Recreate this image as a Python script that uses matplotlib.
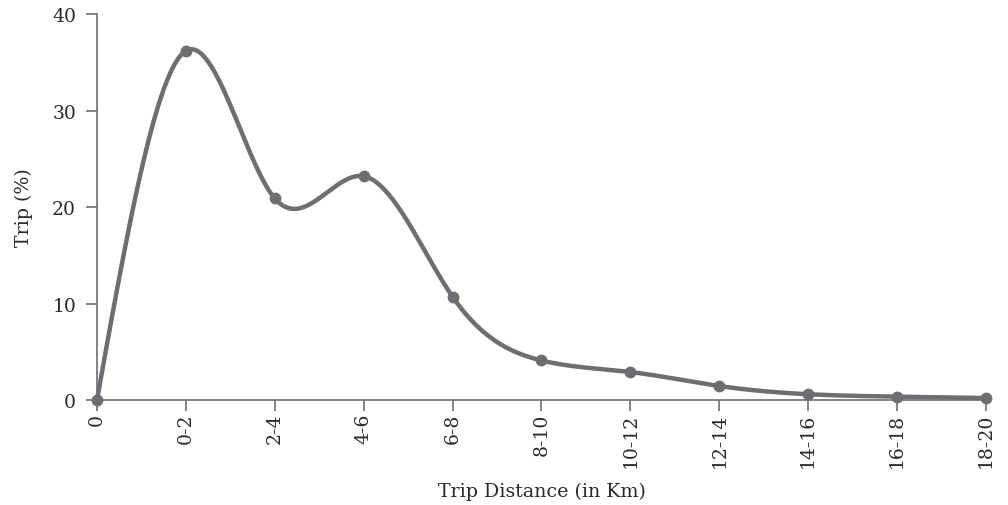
import matplotlib
matplotlib.use("Agg")
import matplotlib.pyplot as plt
import numpy as np

# trip share by distance band
categories = ["0", "0-2", "2-4", "4-6", "6-8", "8-10", "10-12",
              "12-14", "14-16", "16-18", "18-20"]
trip_pct = [0, 36.2, 20.9, 23.2, 10.7, 4.1, 2.9, 1.45, 0.6, 0.35, 0.2]

GREY = "#6d6e71"
plt.rcParams["font.family"] = ["DejaVu Serif"]


# natural cubic spline, used only to draw the smoothed line
def smooth_curve(x, y, n=400):
    x = np.asarray(x, float)
    y = np.asarray(y, float)
    m = len(x)
    h = np.diff(x)
    A = np.zeros((m, m))
    b = np.zeros(m)
    A[0, 0] = A[-1, -1] = 1
    for i in range(1, m - 1):
        A[i, i - 1] = h[i - 1]
        A[i, i] = 2 * (h[i - 1] + h[i])
        A[i, i + 1] = h[i]
        b[i] = 6 * ((y[i + 1] - y[i]) / h[i] - (y[i] - y[i - 1]) / h[i - 1])
    M = np.linalg.solve(A, b)
    xs = np.linspace(x[0], x[-1], n)
    idx = np.clip(np.searchsorted(x, xs) - 1, 0, m - 2)
    x0, x1 = x[idx], x[idx + 1]
    hh = x1 - x0
    t0, t1 = x1 - xs, xs - x0
    ys = (M[idx] * t0 ** 3 + M[idx + 1] * t1 ** 3) / (6 * hh) \
        + (y[idx] / hh - M[idx] * hh / 6) * t0 \
        + (y[idx + 1] / hh - M[idx + 1] * hh / 6) * t1
    return xs, ys


pos = np.arange(len(categories))
xs, ys = smooth_curve(pos, trip_pct)

fig = plt.figure(figsize=(10.08, 5.06), dpi=100)
ax = fig.add_axes([0.0962, 0.2075, 0.882, 0.7625])

ax.plot(xs, ys, color=GREY, lw=3.2, solid_capstyle="round", clip_on=False)
ax.plot(pos, trip_pct, "o", color=GREY, ms=7.5, clip_on=False)

ax.set_xlim(0, len(categories) - 1)
ax.set_ylim(0, 40)
ax.set_yticks([0, 10, 20, 30, 40])
ax.set_xticks(pos)
ax.set_xticklabels(categories, rotation=90)

for side in ["top", "right"]:
    ax.spines[side].set_visible(False)
for side in ["left", "bottom"]:
    ax.spines[side].set_color(GREY)
    ax.spines[side].set_linewidth(1.2)
ax.tick_params(colors="#2a2a2a", labelsize=13.5, length=8, width=1.2, color=GREY)
ax.tick_params(axis="x", pad=1)
ax.tick_params(axis="y", pad=7)

ax.set_ylabel("Trip (%)", fontsize=13.7, labelpad=14, color="#2a2a2a")
ax.set_xlabel("Trip Distance (in Km)", fontsize=13.7, labelpad=11, color="#2a2a2a")

fig.savefig("out.png", dpi=100)
